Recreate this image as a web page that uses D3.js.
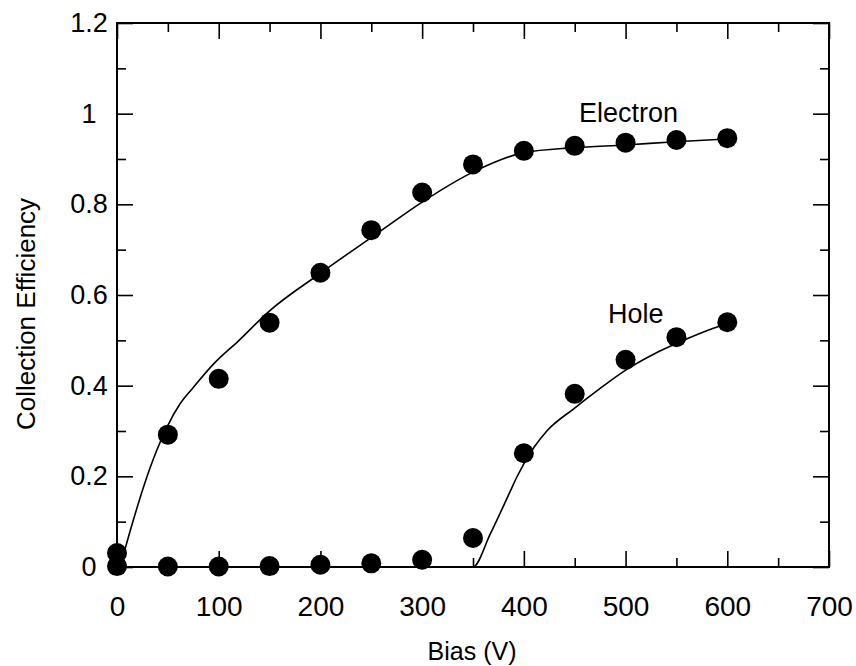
<!DOCTYPE html>
<html>
<head>
<meta charset="utf-8">
<script src="https://cdn.jsdelivr.net/npm/d3@7"></script>
<style>
  body { margin: 0; background: #fff; }
  svg text { font-family: "Liberation Sans", Arial, Helvetica, sans-serif; fill: #000; }
</style>
</head>
<body>
<div id="chart"></div>
<script>
// measured points (bias in V, collection efficiency)
const biasPoints = [0, 50, 100, 150, 200, 250, 300, 350, 400, 450, 500, 550, 600]
const electronPoints = [0.031, 0.292, 0.415, 0.539, 0.649, 0.743, 0.826, 0.888, 0.918, 0.929, 0.936, 0.942, 0.946]
const holePoints = [0.002, 0.001, 0.001, 0.002, 0.005, 0.008, 0.016, 0.064, 0.251, 0.382, 0.457, 0.507, 0.540]

// fitted curves
const electronFitBias = [3, 16, 26, 39, 49, 62, 75, 95, 120, 150, 200, 259, 300, 349, 400, 449, 500, 549, 600]
const electronFitValue = [0, 0.103, 0.176, 0.257, 0.308, 0.360, 0.396, 0.448, 0.500, 0.565, 0.648, 0.741, 0.805, 0.870, 0.914, 0.925, 0.931, 0.938, 0.944]
const holeFitBias = [0, 350, 367, 387, 393, 410, 423, 449, 475, 502, 528, 554, 587, 600]
const holeFitValue = [0, 0, 0.073, 0.169, 0.198, 0.264, 0.301, 0.349, 0.394, 0.437, 0.470, 0.497, 0.527, 0.537]

const xTicks = [0, 100, 200, 300, 400, 500, 600, 700]
const xMinorTicks = [50, 150, 250, 350, 450, 550, 650]
const yTicks = [0, 0.2, 0.4, 0.6, 0.8, 1, 1.2]
const yMinorTicks = [0.1, 0.3, 0.5, 0.7, 0.9, 1.1]
const yTickLabels = ["0", "0.2", "0.4", "0.6", "0.8", "1", "1.2"]

const curveLabels = [
    { text: "Electron", bias: 503, value: 0.982 },
    { text: "Hole", bias: 510, value: 0.539 }
]

let width = 856,
    height = 666
let margin = { left: 117, right: 27, top: 23, bottom: 99 }
let innerW = width - margin.left - margin.right,
    innerH = height - margin.top - margin.bottom

let svg = d3.select('#chart')
    .append('svg')
    .attr("width", width)
    .attr("height", height)
    .style("display", "block")

let g = svg.append("g")
    .attr("transform", "translate(" + margin.left + "," + margin.top + ")")

let x = d3.scaleLinear().domain([0, 700]).range([0, innerW])
let y = d3.scaleLinear().domain([0, 1.2]).range([innerH, 0])

const majorLen = 16, minorLen = 9

// major ticks, all four sides, pointing inward
let bottomAxis = g.append("g")
    .attr("transform", "translate(0," + innerH + ")")
    .call(d3.axisBottom(x).tickValues(xTicks).tickSize(-majorLen).tickSizeOuter(0).tickPadding(29))
bottomAxis.selectAll("text").style("font-size", "28px")

// y labels sit centred in the left margin
let leftAxis = g.append("g")
    .call(d3.axisLeft(y).tickValues(yTicks).tickSize(-majorLen).tickSizeOuter(0).tickPadding(28)
        .tickFormat((d, i) => yTickLabels[i]))
leftAxis.selectAll("text").style("font-size", "27px").attr("text-anchor", "middle")

g.append("g").call(d3.axisTop(x).tickValues(xTicks).tickSize(-majorLen).tickSizeOuter(0).tickFormat(""))
g.append("g").attr("transform", "translate(" + innerW + ",0)")
    .call(d3.axisRight(y).tickValues(yTicks).tickSize(-majorLen).tickSizeOuter(0).tickFormat(""))

// minor ticks
g.append("g").attr("transform", "translate(0," + innerH + ")")
    .call(d3.axisBottom(x).tickValues(xMinorTicks).tickSize(-minorLen).tickSizeOuter(0).tickFormat(""))
g.append("g").call(d3.axisTop(x).tickValues(xMinorTicks).tickSize(-minorLen).tickSizeOuter(0).tickFormat(""))
g.append("g").call(d3.axisLeft(y).tickValues(yMinorTicks).tickSize(-minorLen).tickSizeOuter(0).tickFormat(""))
g.append("g").attr("transform", "translate(" + innerW + ",0)")
    .call(d3.axisRight(y).tickValues(yMinorTicks).tickSize(-minorLen).tickSizeOuter(0).tickFormat(""))

g.selectAll(".domain").remove()
g.selectAll(".tick line").attr("stroke", "#000").attr("stroke-width", 1.6)

g.append("rect")
    .attr("width", innerW)
    .attr("height", innerH)
    .attr("fill", "none")
    .attr("stroke", "#000")
    .attr("stroke-width", 2)

// fit lines
let line = d3.line()
    .x(d => x(d[0]))
    .y(d => y(d[1]))
    .curve(d3.curveMonotoneX)

g.append("path")
    .datum(d3.zip(electronFitBias, electronFitValue))
    .attr("d", line)
    .attr("fill", "none")
    .attr("stroke", "#000")
    .attr("stroke-width", 1.6)

g.append("path")
    .datum(d3.zip(holeFitBias, holeFitValue))
    .attr("d", line)
    .attr("fill", "none")
    .attr("stroke", "#000")
    .attr("stroke-width", 1.6)

// data points
g.selectAll(".hole")
    .data(d3.zip(biasPoints, holePoints))
    .enter().append("circle")
    .attr("class", "hole")
    .attr("cx", d => x(d[0]))
    .attr("cy", d => y(d[1]))
    .attr("r", 10)
    .attr("fill", "#000")

g.selectAll(".electron")
    .data(d3.zip(biasPoints, electronPoints))
    .enter().append("circle")
    .attr("class", "electron")
    .attr("cx", d => x(d[0]))
    .attr("cy", d => y(d[1]))
    .attr("r", 10)
    .attr("fill", "#000")

g.selectAll(".curve-label")
    .data(curveLabels)
    .enter().append("text")
    .attr("class", "curve-label")
    .attr("x", d => x(d.bias))
    .attr("y", d => y(d.value))
    .attr("text-anchor", "middle")
    .style("font-size", "27px")
    .text(d => d.text)

// axis titles
svg.append("text")
    .attr("x", 472)
    .attr("y", 660)
    .attr("text-anchor", "middle")
    .style("font-size", "25px")
    .text("Bias (V)")

svg.append("text")
    .attr("transform", "translate(35,314) rotate(-90)")
    .attr("text-anchor", "middle")
    .style("font-size", "26px")
    .text("Collection Efficiency")
</script>
</body>
</html>
